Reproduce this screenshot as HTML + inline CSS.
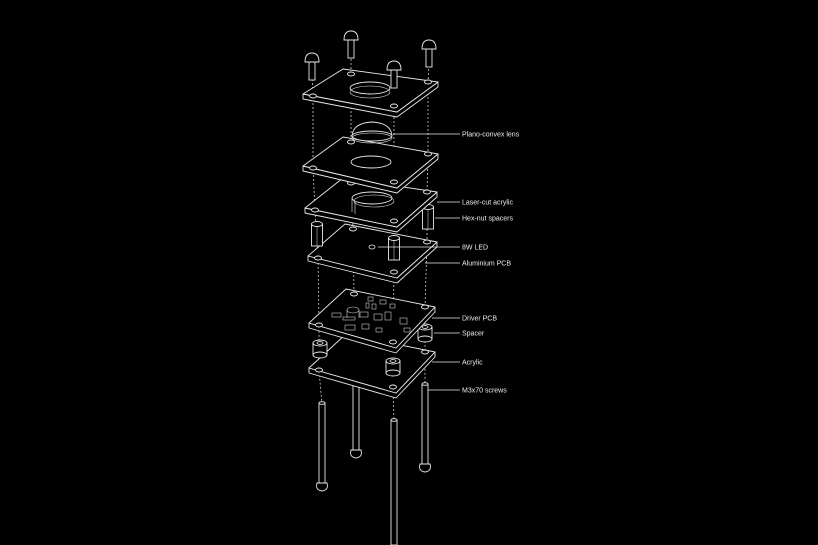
<!DOCTYPE html>
<html><head><style>
html,body{margin:0;padding:0;background:#000;width:818px;height:545px;overflow:hidden}
svg{display:block}
text{font-family:"Liberation Sans",sans-serif;font-size:7px;fill:#eee}
</style></head><body>
<svg width="818" height="545" viewBox="0 0 818 545" xmlns="http://www.w3.org/2000/svg">
<defs>
<g id="screw" fill="#000" stroke="#e8e8e8" stroke-width="0.9">
<rect x="-3" y="0" width="6" height="20"/>
<path d="M-7,2 Q-7,-7 0,-7 Q7,-7 7,2 Z"/>
</g>
<g id="hex" fill="#000" stroke="#e8e8e8" stroke-width="0.9">
<rect x="-5.5" y="0" width="11" height="22"/>
<ellipse cx="0" cy="0" rx="5.5" ry="2.5"/>
<line x1="0" y1="2" x2="0" y2="22" stroke-width="0.5"/>
</g>
<g id="sp" fill="#000" stroke="#e8e8e8" stroke-width="0.9">
<rect x="-7" y="0" width="14" height="12"/>
<ellipse cx="0" cy="12" rx="7" ry="3"/>
<ellipse cx="0" cy="0" rx="7" ry="3"/>
<ellipse cx="0" cy="0" rx="3" ry="1.4"/>
</g>
</defs>
<g stroke="#cfcfcf" stroke-width="0.8" stroke-dasharray="2 2" fill="none">
<polyline points="312,75 313,96 313,168 315,210 318,258 319,325 319,370 322,405"/>
<polyline points="351,55 351,74 351,142 351,183 353,229 354,294 356,370"/>
<polyline points="394,85 394,106 394,182 394,221 394,272 393,342 393,387 394,420"/>
<polyline points="429,65 428,82 428,154 427,192 427,242 425,307 425,352 425,385"/>
</g>
<!-- long screws -->
<g fill="#000" stroke="#e8e8e8" stroke-width="0.9">
<rect x="319" y="403" width="6" height="80"/><ellipse cx="322" cy="403" rx="3" ry="1.3"/><path d="M317,483 L327,483 Q329,490 322,491 Q315,490 317,483 Z"/>
<rect x="353" y="368" width="6" height="82"/><path d="M351,450 L361,450 Q363,457 356,458 Q349,457 351,450 Z"/>
<rect x="391" y="420" width="6" height="125"/><ellipse cx="394" cy="420" rx="3" ry="1.3"/>
<rect x="422" y="384" width="6" height="80"/><ellipse cx="425" cy="384" rx="3" ry="1.3"/><path d="M420,464 L430,464 Q432,471 425,472 Q418,471 420,464 Z"/>
</g>
<g fill="#000" stroke="#e8e8e8" stroke-width="0.9" stroke-linejoin="round">
<!-- acrylic bottom -->
<path d="M309,368 L309,373 L396,398 L435,357 L435,352 L396,393 Z"/>
<path d="M346,334 L435,352 L396,393 L309,368 Z"/>
<ellipse cx="319" cy="370" rx="3.5" ry="2"/><ellipse cx="425" cy="352" rx="3.5" ry="2"/><ellipse cx="393" cy="387" rx="3.5" ry="2"/>
</g>
<use href="#sp" x="320" y="343"/>
<use href="#sp" x="393" y="361"/>
<use href="#sp" x="425" y="327"/>
<g fill="#000" stroke="#e8e8e8" stroke-width="0.9" stroke-linejoin="round">
<!-- driver -->
<path d="M309,323 L309,328 L396,353 L435,312 L435,307 L396,348 Z"/>
<path d="M346,289 L435,307 L396,348 L309,323 Z"/>
<ellipse cx="354" cy="294" rx="3.5" ry="2"/><ellipse cx="425" cy="307" rx="3.5" ry="2"/><ellipse cx="393" cy="342" rx="3.5" ry="2"/><ellipse cx="319" cy="325" rx="3.5" ry="2"/>
</g>
<g stroke="#ccc" stroke-width="0.6" fill="none">
<rect x="368" y="297" width="5" height="4"/><rect x="380" y="300" width="6" height="4"/><rect x="390" y="304" width="5" height="4"/>
<rect x="366" y="303" width="3" height="5"/><rect x="372" y="304" width="4" height="5"/><rect x="360" y="312" width="8" height="5"/>
<rect x="332" y="313" width="9" height="4"/><rect x="343" y="317" width="12" height="3"/><rect x="374" y="314" width="8" height="6"/>
<rect x="385" y="312" width="6" height="8"/><rect x="345" y="325" width="10" height="5"/><rect x="362" y="324" width="7" height="5"/>
<rect x="400" y="318" width="7" height="6"/><rect x="404" y="328" width="6" height="4"/><rect x="376" y="328" width="6" height="4"/>
<ellipse cx="353" cy="310" rx="6" ry="3"/><path d="M347,310 L347,318 M359,310 L359,318"/>
</g>
<g fill="#000" stroke="#e8e8e8" stroke-width="0.9" stroke-linejoin="round">
<!-- aluminium -->
<path d="M308,256 L308,261 L397,283 L437,247 L437,242 L397,278 Z"/>
<path d="M345,224 L437,242 L397,278 L308,256 Z"/>
<ellipse cx="353" cy="229" rx="3.5" ry="2"/><ellipse cx="427" cy="242" rx="3.5" ry="2"/><ellipse cx="394" cy="272" rx="3.5" ry="2"/><ellipse cx="318" cy="258" rx="3.5" ry="2"/>
</g>
<ellipse cx="372" cy="247" rx="3" ry="2" fill="none" stroke="#e8e8e8" stroke-width="0.8"/>
<use href="#hex" x="317" y="224"/>
<use href="#hex" x="394" y="238"/>
<use href="#hex" x="428" y="207"/>
<g fill="#000" stroke="#e8e8e8" stroke-width="0.9" stroke-linejoin="round">
<!-- laser -->
<path d="M305,208 L305,213 L397,232 L437,197 L437,192 L397,227 Z"/>
<path d="M343,178 L437,192 L397,227 L305,208 Z"/>
<ellipse cx="351" cy="183" rx="3.5" ry="2"/><ellipse cx="427" cy="192" rx="3.5" ry="2"/><ellipse cx="394" cy="221" rx="3.5" ry="2"/><ellipse cx="315" cy="210" rx="3.5" ry="2"/>
</g>
<ellipse cx="372" cy="198" rx="20" ry="6" fill="none" stroke="#e8e8e8" stroke-width="0.9"/>
<path d="M352,198 L352,212 M355,202 L355,214" stroke="#e8e8e8" stroke-width="0.6"/>
<ellipse cx="374" cy="201" rx="20" ry="6" fill="none" stroke="#e8e8e8" stroke-width="0.6"/>
<g fill="#000" stroke="#e8e8e8" stroke-width="0.9" stroke-linejoin="round">
<!-- lens plate -->
<path d="M303,166 L303,171 L397,193 L438,159 L438,154 L397,188 Z"/>
<path d="M343,137 L438,154 L397,188 L303,166 Z"/>
<ellipse cx="351" cy="142" rx="3.5" ry="2"/><ellipse cx="428" cy="154" rx="3.5" ry="2"/><ellipse cx="394" cy="182" rx="3.5" ry="2"/><ellipse cx="313" cy="168" rx="3.5" ry="2"/>
</g>
<ellipse cx="371" cy="162" rx="20" ry="6" fill="none" stroke="#e8e8e8" stroke-width="0.9"/>
<!-- lens -->
<path d="M352,136 Q353,123 372,122 Q391,123 392,136" fill="#000" stroke="#e8e8e8" stroke-width="0.9"/>
<ellipse cx="372" cy="136" rx="20" ry="5" fill="#000" stroke="#e8e8e8" stroke-width="0.9"/>
<ellipse cx="372" cy="138" rx="20" ry="5" fill="none" stroke="#e8e8e8" stroke-width="0.6"/>
<g fill="#000" stroke="#e8e8e8" stroke-width="0.9" stroke-linejoin="round">
<!-- top plate -->
<path d="M303,94 L303,99 L397,117 L438,87 L438,82 L397,112 Z"/>
<path d="M343,69 L438,82 L397,112 L303,94 Z"/>
<ellipse cx="351" cy="74" rx="3.5" ry="2"/><ellipse cx="428" cy="82" rx="3.5" ry="2"/><ellipse cx="394" cy="106" rx="3.5" ry="2"/><ellipse cx="313" cy="96" rx="3.5" ry="2"/>
</g>
<ellipse cx="370" cy="88" rx="20" ry="6" fill="none" stroke="#e8e8e8" stroke-width="0.9"/>
<ellipse cx="370" cy="92" rx="20" ry="6" fill="none" stroke="#e8e8e8" stroke-width="0.6"/>
<use href="#screw" x="312" y="60"/>
<use href="#screw" x="351" y="38"/>
<use href="#screw" x="394" y="68"/>
<use href="#screw" x="429" y="47"/>
<!-- leaders -->
<g stroke="#e8e8e8" stroke-width="0.8">
<line x1="393" y1="134" x2="460" y2="134"/>
<line x1="437" y1="202" x2="460" y2="202"/>
<line x1="435" y1="218" x2="460" y2="218"/>
<line x1="378" y1="247" x2="460" y2="247"/>
<line x1="425" y1="263" x2="460" y2="263"/>
<line x1="432" y1="318" x2="460" y2="318"/>
<line x1="434" y1="333" x2="460" y2="333"/>
<line x1="432" y1="362" x2="460" y2="362"/>
<line x1="428" y1="390" x2="460" y2="390"/>
</g>
<text x="462" y="136.5">Plano-convex lens</text>
<text x="462" y="204.5">Laser-cut acrylic</text>
<text x="462" y="220.5">Hex-nut spacers</text>
<text x="462" y="249.5">8W LED</text>
<text x="462" y="265.5">Aluminium PCB</text>
<text x="462" y="320.5">Driver PCB</text>
<text x="462" y="335.5">Spacer</text>
<text x="462" y="364.5">Acrylic</text>
<text x="462" y="392.5">M3x70 screws</text>
</svg>
</body></html>
